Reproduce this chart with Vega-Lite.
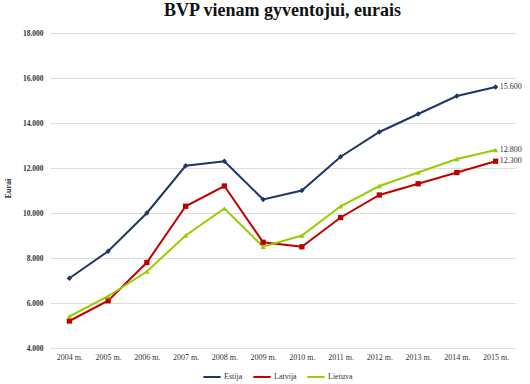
{
  "$schema": "https://vega.github.io/schema/vega-lite/v6.json",
  "width": 465,
  "height": 315,
  "autosize": "none",
  "padding": {"left": 50, "top": 33, "right": 15, "bottom": 36},
  "background": "white",
  "title": {"text": "BVP vienam gyventojui, eurais", "font": "Liberation Serif", "fontSize": 18, "fontWeight": "bold", "color": "#111", "anchor": "middle", "offset": 9},
  "config": {"view": {"stroke": null}, "font": "Liberation Serif"},
  "data": {"values": [
    {"year": "2004 m.", "country": "Estija", "v": 7100},
    {"year": "2005 m.", "country": "Estija", "v": 8300},
    {"year": "2006 m.", "country": "Estija", "v": 10000},
    {"year": "2007 m.", "country": "Estija", "v": 12100},
    {"year": "2008 m.", "country": "Estija", "v": 12300},
    {"year": "2009 m.", "country": "Estija", "v": 10600},
    {"year": "2010 m.", "country": "Estija", "v": 11000},
    {"year": "2011 m.", "country": "Estija", "v": 12500},
    {"year": "2012 m.", "country": "Estija", "v": 13600},
    {"year": "2013 m.", "country": "Estija", "v": 14400},
    {"year": "2014 m.", "country": "Estija", "v": 15200},
    {"year": "2015 m.", "country": "Estija", "v": 15600},
    {"year": "2004 m.", "country": "Latvija", "v": 5200},
    {"year": "2005 m.", "country": "Latvija", "v": 6100},
    {"year": "2006 m.", "country": "Latvija", "v": 7800},
    {"year": "2007 m.", "country": "Latvija", "v": 10300},
    {"year": "2008 m.", "country": "Latvija", "v": 11200},
    {"year": "2009 m.", "country": "Latvija", "v": 8700},
    {"year": "2010 m.", "country": "Latvija", "v": 8500},
    {"year": "2011 m.", "country": "Latvija", "v": 9800},
    {"year": "2012 m.", "country": "Latvija", "v": 10800},
    {"year": "2013 m.", "country": "Latvija", "v": 11300},
    {"year": "2014 m.", "country": "Latvija", "v": 11800},
    {"year": "2015 m.", "country": "Latvija", "v": 12300},
    {"year": "2004 m.", "country": "Lietuva", "v": 5400},
    {"year": "2005 m.", "country": "Lietuva", "v": 6300},
    {"year": "2006 m.", "country": "Lietuva", "v": 7400},
    {"year": "2007 m.", "country": "Lietuva", "v": 9000},
    {"year": "2008 m.", "country": "Lietuva", "v": 10200},
    {"year": "2009 m.", "country": "Lietuva", "v": 8500},
    {"year": "2010 m.", "country": "Lietuva", "v": 9000},
    {"year": "2011 m.", "country": "Lietuva", "v": 10300},
    {"year": "2012 m.", "country": "Lietuva", "v": 11200},
    {"year": "2013 m.", "country": "Lietuva", "v": 11800},
    {"year": "2014 m.", "country": "Lietuva", "v": 12400},
    {"year": "2015 m.", "country": "Lietuva", "v": 12800}
  ]},
  "encoding": {
    "x": {"field": "year", "type": "ordinal", "scale": {"type": "point", "padding": 0.5},
      "axis": {"title": null, "labelAngle": 0, "labelFontSize": 8, "labelColor": "#333", "ticks": false, "domain": false, "labelPadding": 5, "grid": false}},
    "y": {"field": "v", "type": "quantitative", "scale": {"domain": [4000, 18000], "nice": false, "zero": false},
      "axis": {"title": "Eurai", "titleFontSize": 8, "titleFontWeight": "bold", "titleColor": "#222", "titleX": -38, "titleY": 155, "titleAngle": 270, "values": [4000, 6000, 8000, 10000, 12000, 14000, 16000, 18000],
        "labelExpr": "replace(format(datum.value, ',.0f'), /,/g, '.')", "labelFontSize": 7.5, "labelFontWeight": "bold", "labelColor": "#333", "ticks": false, "domain": false, "labelPadding": 7, "gridColor": "#dddddd", "gridWidth": 1}}
  },
  "layer": [
    {"mark": {"type": "line", "strokeWidth": 2},
      "encoding": {"color": {"field": "country", "type": "nominal", "scale": {"domain": ["Estija", "Latvija", "Lietuva"], "range": ["#1f3668", "#c00000", "#99cc00"]},
        "legend": {"title": null, "orient": "none", "direction": "horizontal", "legendX": 152, "legendY": 334, "symbolType": "stroke", "symbolSize": 300, "symbolStrokeWidth": 2, "labelFontSize": 8, "labelColor": "#333", "columnPadding": 6, "labelOffset": 2}}}},
    {"transform": [{"filter": "datum.country == 'Estija'"}],
      "mark": {"type": "point", "filled": true, "opacity": 1, "shape": "diamond", "color": "#1f3668", "size": 28}},
    {"transform": [{"filter": "datum.country == 'Latvija'"}],
      "mark": {"type": "point", "filled": true, "opacity": 1, "shape": "square", "color": "#c00000", "size": 28}},
    {"transform": [{"filter": "datum.country == 'Lietuva'"}],
      "mark": {"type": "point", "filled": true, "opacity": 1, "shape": "triangle-up", "color": "#99cc00", "size": 28}},
    {"transform": [{"filter": "datum.year == '2015 m.'"}, {"calculate": "replace(format(datum.v, ',.0f'), /,/g, '.')", "as": "lbl"}],
      "mark": {"type": "text", "align": "left", "dx": 4, "fontSize": 8, "fill": "#333333"},
      "encoding": {"text": {"field": "lbl", "type": "nominal"}}}
  ]
}
